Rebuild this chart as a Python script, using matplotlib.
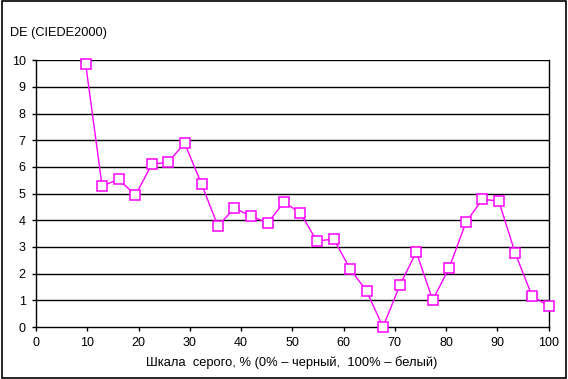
import matplotlib
matplotlib.use("Agg")
import matplotlib.pyplot as plt
import numpy as np

plt.rcParams['font.family'] = ['Liberation Sans', 'DejaVu Sans']

# gray level, % and colour difference
gray = [9.7, 12.9, 16.1, 19.4, 22.6, 25.8, 29.0, 32.3, 35.5, 38.7,
        41.9, 45.2, 48.4, 51.6, 54.8, 58.1, 61.3, 64.5, 67.7, 71.0,
        74.2, 77.4, 80.6, 83.9, 87.1, 90.3, 93.5, 96.8, 100.0]
de = [9.85, 5.28, 5.54, 4.94, 6.10, 6.18, 6.89, 5.36, 3.78, 4.46,
      4.16, 3.90, 4.68, 4.27, 3.22, 3.30, 2.17, 1.35, 0.00, 1.57,
      2.81, 1.01, 2.21, 3.93, 4.79, 4.72, 2.77, 1.16, 0.79]

x_ticks = list(range(0, 101, 10))
y_ticks = list(range(0, 11))

fig = plt.figure(figsize=(5.68, 3.79), dpi=100)
ax = fig.add_axes([0.0634, 0.1372, 0.9023, 0.7038])

# outer frame of the chart
fig.patches.append(plt.Rectangle((0.004, 0.003), 0.993, 0.994, transform=fig.transFigure,
                                 fill=False, edgecolor='black', linewidth=1.2))

for v in y_ticks[1:]:
    ax.axhline(v, color='black', linewidth=1.0, zorder=1)

ax.plot(gray, de, color='#ff00ff', linewidth=1.0, marker='s', markersize=6.5,
        markerfacecolor='white', markeredgecolor='#ff00ff', markeredgewidth=1.1,
        clip_on=False, zorder=3)

ax.set_xlim(0, 100)
ax.set_ylim(0, 10)
ax.set_xticks(x_ticks)
ax.set_yticks(y_ticks)
ax.tick_params(direction='out', length=3, width=1, labelsize=9)
ax.tick_params(axis='y', pad=4.5)
ax.tick_params(axis='x', pad=4)
for s in ['left', 'bottom', 'right']:
    ax.spines[s].set_linewidth(1.0)
ax.spines['top'].set_visible(False)

fig.text(291.5 / 568, 1 - 363 / 379, 'Шкала  серого, % (0% – черный,  100% – белый)',
         fontsize=9.3, ha='center', va='center')
fig.text(9.5 / 568, 1 - 33 / 379, 'DE (CIEDE2000)', fontsize=9.2, ha='left', va='center')

fig.savefig('out.png', dpi=100)
